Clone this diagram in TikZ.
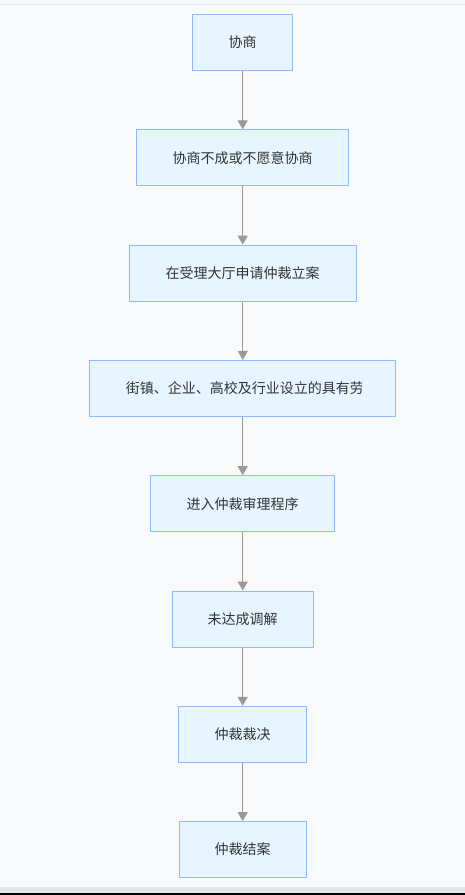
\documentclass[tikz,border=0pt]{standalone}
\usepackage{fontspec}
\setmainfont{Noto Sans CJK SC}
\usepackage{tikz}
\usetikzlibrary{arrows.meta,positioning}
\usepackage{xcolor}
\definecolor{flowbg}{RGB}{248,249,251}
\definecolor{flowrule}{RGB}{228,230,233}
\definecolor{flowfill}{RGB}{230,245,255}
\definecolor{flowdraw}{RGB}{145,186,255}
\definecolor{flowgray}{RGB}{153,153,153}
\definecolor{flowtext}{RGB}{51,51,51}
\tikzstyle{arrow} = [line width=1.2pt,-{Triangle[width=10pt,length=9pt]},color=flowgray]
\tikzstyle{procbox} = [rectangle, minimum height=56pt, text centered, draw=flowdraw, fill=flowfill, line width=1pt, text=flowtext, font=\fontsize{14pt}{16pt}\selectfont]

\begin{document}
\begin{tikzpicture}[x=1pt, y=1pt, node distance=58.3pt]
% Page background and frame lines
\useasboundingbox (0,0) rectangle (465,-895);
\fill[flowbg] (0,0) rectangle (465,-895);
\fill[flowrule] (0,-3.5) rectangle (465,-4.8);
\fill[flowrule] (0,-887.3) rectangle (465,-892.7);
\fill[black] (0,-892.7) rectangle (465,-895);

% Steps from top to bottom
\node (consult) [procbox, minimum width=100pt] at (242.7,-42.5) {协商};
\node (failed) [procbox, below=of consult, minimum width=212pt] {协商不成或不愿意协商};
\node (apply) [procbox, below=of failed, minimum width=226.7pt] {在受理大厅申请仲裁立案};
\node (street) [procbox, below=of apply, minimum width=306.4pt] {};
\node (hearing) [procbox, below=of street, minimum width=183.6pt] {进入仲裁审理程序};
\node (nomediate) [procbox, below=of hearing, minimum width=141.3pt] {未达成调解};
\node (award) [procbox, below=of nomediate, minimum width=128pt] {仲裁裁决};
\node (closed) [procbox, below=of award, minimum width=127.3pt] {仲裁结案};

% Clipped text of the long step
\begin{scope}
\clip ([yshift=1pt]street.south west) rectangle ([xshift=-35.2pt]street.north east);
\node (streettext) [anchor=west, inner sep=0pt, text=flowtext, font=\fontsize{14pt}{16pt}\selectfont] at ([xshift=36.7pt]street.west) {街镇、企业、高校及行业设立的具有劳};
\end{scope}

% Connections
\draw[arrow] (consult) -- (failed);
\draw[arrow] (failed) -- (apply);
\draw[arrow] (apply) -- (street);
\draw[arrow] (street) -- (hearing);
\draw[arrow] (hearing) -- (nomediate);
\draw[arrow] (nomediate) -- (award);
\draw[arrow] (award) -- (closed);
\end{tikzpicture}
\end{document}
